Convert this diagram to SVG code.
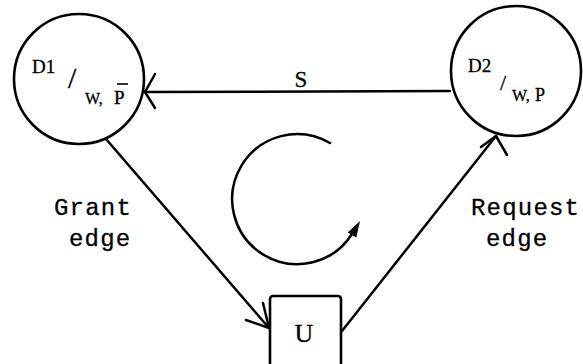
<svg xmlns="http://www.w3.org/2000/svg" width="583" height="364" viewBox="0 0 583 364">
<style>
.shape{fill:none;stroke:#000;stroke-width:2.6}
.edge{fill:none;stroke:#000;stroke-width:2.5;stroke-linecap:round;stroke-linejoin:round}
.lbl{font-family:"Liberation Serif","Times New Roman",serif;fill:#000;stroke:#000;stroke-width:0.3}
.mono{font-family:"Liberation Mono","Courier New",monospace;font-size:24px;letter-spacing:1.2px;fill:#000;stroke:#000;stroke-width:0.3}
</style>
<rect width="583" height="364" fill="#fff"/>
<g id="D1">
<circle class="shape" cx="79" cy="79" r="65"/>
<text class="lbl" x="32" y="73" font-size="19">D1</text>
<text class="lbl" x="68" y="88" font-size="30">/</text>
<text class="lbl" x="85" y="104" font-size="16">W,</text>
<text class="lbl" x="114" y="104" font-size="19">P</text>
<line x1="117" y1="84" x2="128" y2="84" stroke="#000" stroke-width="1.6"/>
</g>
<g id="D2">
<circle class="shape" cx="516" cy="71" r="65"/>
<text class="lbl" x="468" y="72" font-size="19">D2</text>
<text class="lbl" x="500" y="90" font-size="22">/</text>
<text class="lbl" x="512" y="101" font-size="16">W,</text>
<text class="lbl" x="535" y="101" font-size="18">P</text>
</g>
<g id="U">
<rect class="shape" x="270" y="296" width="71" height="90" rx="3"/>
<text class="lbl" x="304" y="342" font-size="26" text-anchor="middle">U</text>
</g>
<g id="connectors">
<path class="edge" d="M450,91 L145,92"/>
<path class="edge" d="M155,74 L145,92 L155,108"/>
<text class="lbl" x="301" y="87" font-size="23" text-anchor="middle">S</text>
<path class="edge" d="M106,139 L269,328"/>
<path class="edge" d="M263,303 L269,328 L246,320"/>
<text class="mono" x="54" y="215">Grant</text>
<text class="mono" x="69" y="246">edge</text>
<path class="edge" d="M342,331 L496,136"/>
<path class="edge" d="M481,147 L496,136 L507,155"/>
<text class="mono" x="471" y="215">Request</text>
<text class="mono" x="486" y="246">edge</text>
<path class="edge" d="M330,143 A65,65 0 1 0 352,234"/>
<polygon points="360,221 356.3,237.4 347.7,232.4" fill="#000"/>
</g>
</svg>
